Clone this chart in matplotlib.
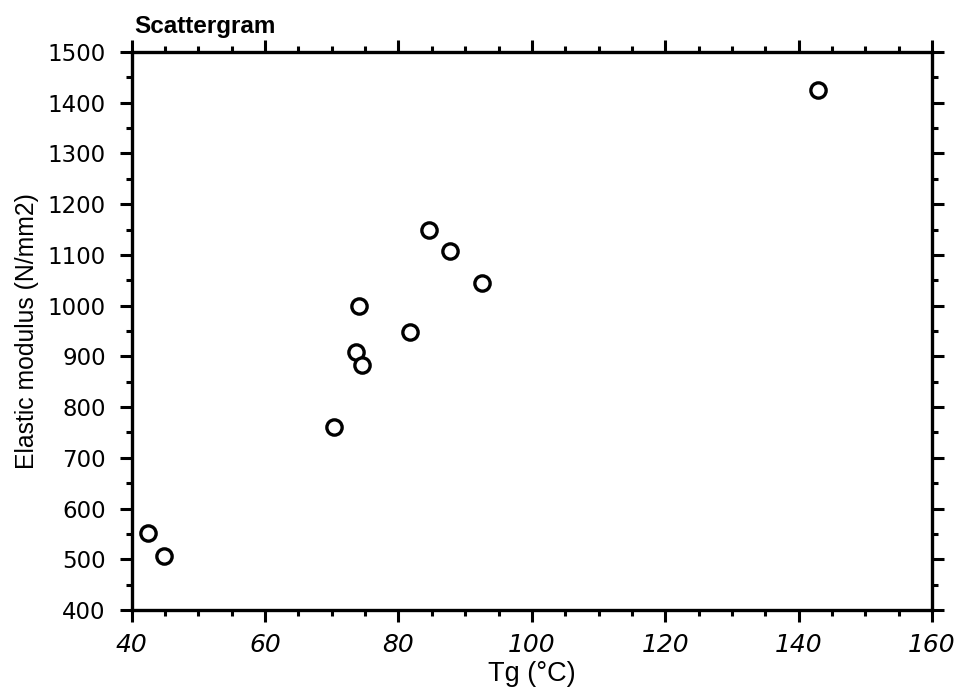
import numpy as np
import matplotlib
matplotlib.use("Agg")
import matplotlib.pyplot as plt
from matplotlib.ticker import MultipleLocator

# values
tg = [42.4, 44.9, 70.4, 73.6, 74.5, 74.1, 81.7, 84.6, 87.7, 92.6, 142.9]
modulus = [551, 506, 760, 909, 883, 1000, 948, 1150, 1107, 1044, 1426]

x_ticks = [40, 60, 80, 100, 120, 140, 160]
y_ticks = [400, 500, 600, 700, 800, 900, 1000, 1100, 1200, 1300, 1400, 1500]

plt.rcParams["font.family"] = ["Liberation Sans", "DejaVu Sans"]

fig = plt.figure(figsize=(9.56, 6.94), dpi=100)
ax = fig.add_axes([131.7 / 956, 1 - 610 / 694, (932 - 131.7) / 956, (610 - 52) / 694])

ax.plot(tg, modulus, linestyle="none", marker="o", markersize=11,
        markerfacecolor="white", markeredgecolor="black", markeredgewidth=2.4)

ax.set_xlim(40, 160)
ax.set_ylim(400, 1500)
ax.set_xticks(x_ticks)
ax.set_yticks(y_ticks)
ax.xaxis.set_minor_locator(MultipleLocator(5))
ax.yaxis.set_minor_locator(MultipleLocator(50))

for side in ax.spines.values():
    side.set_linewidth(2.4)

ax.tick_params(which="both", direction="out", top=True, right=True,
               labeltop=False, labelright=False, width=2.2, color="black")
ax.tick_params(which="major", length=8.6)
ax.tick_params(which="minor", length=4.5)
ax.tick_params(axis="x", which="major", pad=8)
ax.tick_params(axis="y", which="major", pad=10)

for lab in ax.get_xticklabels():
    lab.set_fontfamily("DejaVu Sans")
    lab.set_fontstyle("oblique")
    lab.set_fontsize(18)
for lab in ax.get_yticklabels():
    lab.set_fontfamily("DejaVu Sans")
    lab.set_fontsize(16.5)

ax.set_xlabel("Tg (°C)", fontsize=19.5, labelpad=3)
ax.set_ylabel("Elastic modulus (N/mm2)", fontsize=17.8, labelpad=6)

fig.text(134 / 956, 1 - 33 / 694, "Scattergram", fontsize=17.5,
         fontweight="bold", ha="left", va="baseline")

fig.savefig("out.png", dpi=100)
plt.close(fig)
